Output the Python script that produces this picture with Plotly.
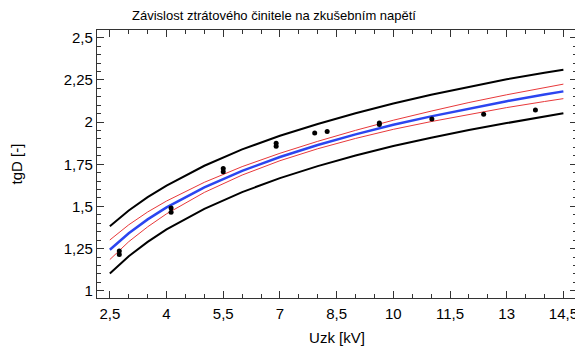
import plotly.graph_objects as go

# --- data ---
# measured points (Uzk [kV], tgD [-])
uzk_meas = [2.75, 2.75, 4.12, 4.12, 5.5, 5.5, 6.9, 6.9, 7.92, 8.25, 9.63, 9.63, 11.02, 12.39, 13.76]
tgd_meas = [1.235, 1.215, 1.49, 1.465, 1.725, 1.705, 1.875, 1.857, 1.935, 1.944, 1.995, 1.985, 2.018, 2.047, 2.071]

# fitted curve with confidence and prediction bands
uzk_fit = [2.5, 3, 3.5, 4, 5, 6, 7, 8, 9, 10, 11, 12, 13, 14, 14.5]
tgd_fit = [1.243, 1.341, 1.423, 1.494, 1.613, 1.711, 1.793, 1.864, 1.927, 1.984, 2.034, 2.081, 2.124, 2.163, 2.182]
conf_hi = [1.301, 1.391, 1.467, 1.532, 1.643, 1.736, 1.815, 1.886, 1.951, 2.011, 2.065, 2.116, 2.162, 2.204, 2.225]
conf_lo = [1.185, 1.291, 1.379, 1.456, 1.583, 1.686, 1.771, 1.842, 1.903, 1.957, 2.003, 2.046, 2.086, 2.122, 2.139]
pred_hi = [1.382, 1.476, 1.555, 1.623, 1.741, 1.838, 1.919, 1.989, 2.052, 2.110, 2.162, 2.209, 2.254, 2.293, 2.310]
pred_lo = [1.102, 1.205, 1.290, 1.364, 1.486, 1.585, 1.668, 1.739, 1.802, 1.858, 1.907, 1.953, 1.994, 2.033, 2.053]

x_ticks = [2.5, 4, 5.5, 7, 8.5, 10, 11.5, 13, 14.5]
y_ticks = [1, 1.25, 1.5, 1.75, 2, 2.25, 2.5]

FONT = "Liberation Sans, Arial, sans-serif"

# the page body adds an 8 px margin, so the figure is 8 px smaller
# in each direction and its margins are reduced accordingly
W, H = 575, 346

fig = go.Figure()

# prediction bands
for band in (pred_hi, pred_lo):
    fig.add_trace(go.Scatter(x=uzk_fit, y=band, mode="lines",
                             line=dict(color="black", width=2), hoverinfo="skip"))

# confidence bands
for band in (conf_hi, conf_lo):
    fig.add_trace(go.Scatter(x=uzk_fit, y=band, mode="lines",
                             line=dict(color="#e8383a", width=1), hoverinfo="skip"))

# fitted line
fig.add_trace(go.Scatter(x=uzk_fit, y=tgd_fit, mode="lines",
                         line=dict(color="#2b45f0", width=2.5)))

# measured points
fig.add_trace(go.Scatter(x=uzk_meas, y=tgd_meas, mode="markers",
                         marker=dict(color="black", size=5, symbol="circle")))

def fmt(v):
    return ("%g" % v).replace(".", ",")

axis_common = dict(
    showgrid=False, zeroline=False, automargin=False,
    showline=True, linecolor="#333333", linewidth=1.2, mirror="allticks",
    ticks="inside", ticklen=7, tickcolor="#333333",
    tickfont=dict(family=FONT, size=15, color="black"),
)

fig.update_xaxes(
    range=[2.16, 14.86],
    tickvals=x_ticks, ticktext=[fmt(v) for v in x_ticks],
    ticklabelstandoff=2,
    minor=dict(dtick=0.5, tick0=2.5, ticks="inside", ticklen=4, tickcolor="#333333"),
    title=dict(text="Uzk [kV]", font=dict(family=FONT, size=15, color="black"), standoff=11),
    **axis_common,
)
fig.update_yaxes(
    range=[0.957, 2.546],
    tickvals=y_ticks, ticktext=[fmt(v) for v in y_ticks],
    minor=dict(dtick=0.05, tick0=1, ticks="inside", ticklen=4, tickcolor="#333333"),
    title=dict(text="tgD [-]", font=dict(family=FONT, size=15, color="black"), standoff=43),
    **axis_common,
)

fig.update_layout(
    width=W, height=H,
    showlegend=False,
    plot_bgcolor="white",
    paper_bgcolor="white",
    margin=dict(l=89, r=6, t=22, b=56),
    title=dict(text="Závislost ztrátového činitele na zkušebním napětí",
               x=266 / W, xanchor="center", y=1 - 3 / H, yanchor="top",
               font=dict(family=FONT, size=13, color="black")),
)

fig.write_html("out.html")
